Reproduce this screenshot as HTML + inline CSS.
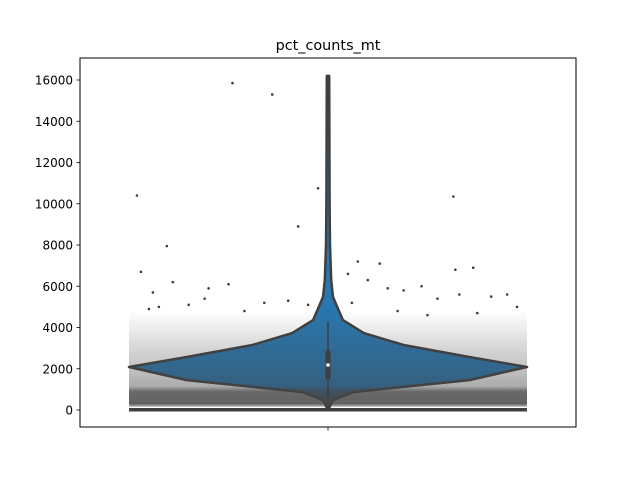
<!DOCTYPE html>
<html><head><meta charset="utf-8"><style>
html,body{margin:0;padding:0;background:#fff;}
svg text{font-family:"DejaVu Sans","Liberation Sans",sans-serif;}
</style></head><body>
<svg id="chart" width="640" height="480" viewBox="0 0 640 480" xmlns="http://www.w3.org/2000/svg">
<defs><linearGradient id="dens" gradientUnits="userSpaceOnUse" x1="0" x2="0" y1="0" y2="0"></linearGradient></defs>
<rect x="0" y="0" width="640" height="480" fill="#fff"/>
<text x="328" y="50" font-size="14.4" text-anchor="middle" fill="#000">pct_counts_mt</text>
<g id="plot"></g>
<rect x="80" y="58" width="496" height="369" fill="none" stroke="#000" stroke-width="1"/>
</svg>
<script>
const yTicks=[0,2000,4000,6000,8000,10000,12000,14000,16000];
const profVals=[0,480,870,1120,1450,1800,2085,2570,3150,3730,4360,5480,6300,8000,10000,16200];
const profWidth=[0,0.025,0.13,0.38,0.71,0.87,1.0,0.71,0.38,0.18,0.075,0.025,0.016,0.01,0.008,0.006];
const densVals=[150,300,900,1150,1500,2000,3000,3800,4800];
const densAlpha=[0.3,0.85,0.8,0.45,0.4,0.32,0.22,0.12,0];
const ptVals=[10400,6700,7950,15850,15300,8900,10750,10350,6800,6900,7200,7100,6100,5900,6200,5600,5400,5800,6300,5200,5700,6000,5100,5500,6600,5300,5900,5000,4800,5600,4900,5200,4700,5100,4600,5400,4800,5000];
const ptJit=[-0.96,-0.94,-0.81,-0.48,-0.28,-0.15,-0.05,0.63,0.64,0.73,0.15,0.26,-0.5,-0.6,-0.78,0.9,0.55,0.38,0.2,-0.32,-0.88,0.47,-0.7,0.82,0.1,-0.2,0.3,0.95,-0.42,0.66,-0.9,0.12,0.75,-0.1,0.5,-0.62,0.35,-0.85];
const X0=80,CX=328,HW=199;
function yS(v){return 410-(v/16000)*330;}
const g=document.getElementById('plot');
const NS='http://www.w3.org/2000/svg';
function mk(t,a,p){const e=document.createElementNS(NS,t);for(const k in a)e.setAttribute(k,a[k]);(p||g).appendChild(e);return e;}
yTicks.forEach(v=>{
 const l=mk('line',{x1:X0-3.5,x2:X0,y1:yS(v),y2:yS(v),stroke:'#000','stroke-width':0.8});
 
 
 const t=mk('text',{x:X0-7,y:yS(v)+4.5,'font-size':12,'text-anchor':'end',fill:'#000'});
 t.textContent=v;
 
 
});
const xt=mk('line',{x1:CX,x2:CX,y1:427,y2:430.5,stroke:'#000','stroke-width':0.8});


let right=[],left=[];
for(let i=0;i<profVals.length;i++){right.push((CX+profWidth[i]*HW).toFixed(1)+','+yS(profVals[i]).toFixed(1));left.unshift((CX-profWidth[i]*HW).toFixed(1)+','+yS(profVals[i]).toFixed(1));}
const vp=mk('polygon',{points:right.concat(left).join(' '),fill:'#2a76ae',stroke:'#3f3f3f','stroke-width':2.5,'stroke-linejoin':'round'});


// density gradient for strip points
const gr=document.getElementById('dens');
const gTop=yS(densVals[densVals.length-1]),gBot=yS(densVals[0]);
gr.setAttribute('y1',gBot);gr.setAttribute('y2',gTop);
for(let i=0;i<densVals.length;i++){
 const s=document.createElementNS(NS,'stop');
 s.setAttribute('offset',((densVals[i]-densVals[0])/(densVals[densVals.length-1]-densVals[0])).toFixed(3));
 s.setAttribute('stop-color','#454545');
 s.setAttribute('stop-opacity',densAlpha[i]);
 gr.appendChild(s);
}
const cloud=mk('rect',{x:129,y:gTop,width:398,height:gBot-gTop,fill:'url(#dens)'});


const zl=mk('rect',{x:129,y:yS(0)-2,width:398,height:3.5,fill:'#3f3f3f'});


for(let i=0;i<ptVals.length;i++){
 const c=mk('circle',{cx:CX+ptJit[i]*HW,cy:yS(ptVals[i]),r:1.3,fill:'#3f3f3f'});
 
 
}
const wl=mk('line',{x1:CX,x2:CX,y1:yS(4270),y2:yS(0),stroke:'#3f3f3f','stroke-width':1.5});


const bx=mk('rect',{x:CX-2.5,y:yS(2900),width:5,height:yS(1500)-yS(2900),fill:'#3f3f3f'});


const md=mk('circle',{cx:CX,cy:yS(2180),r:1.8,fill:'#fff'});


</script>
</body></html>
